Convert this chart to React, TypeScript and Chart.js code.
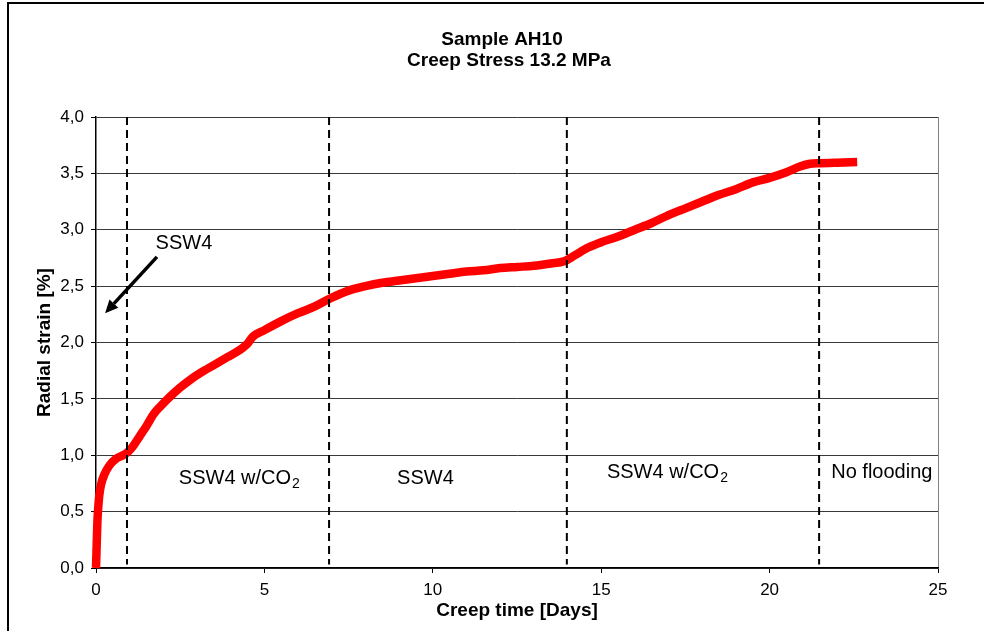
import React, { useEffect, useRef } from 'react';
import { Chart, registerables } from 'chart.js';

Chart.register(...registerables);

const titleLines = ['Sample AH10', 'Creep Stress 13.2 MPa'];
const xAxisTitle = 'Creep time [Days]';
const yAxisTitle = 'Radial strain [%]';

const days = [
  0, 0.02, 0.04, 0.07, 0.1, 0.15, 0.25, 0.4, 0.6, 0.8, 0.95, 1.1, 1.3, 1.5, 1.7, 1.9,
  2.2, 2.5, 2.8, 3.1, 3.5, 3.9, 4.3, 4.5, 4.65, 5.0, 5.5, 6.0, 6.5, 6.95, 7.5, 8.0,
  8.5, 9.0, 9.5, 10.0, 10.5, 11.0, 11.5, 12.0, 12.5, 13.0, 13.5, 13.9, 14.2, 14.6,
  15.0, 15.5, 16.0, 16.5, 17.0, 17.5, 18.0, 18.5, 19.0, 19.5, 20.0, 20.5, 20.9, 21.2,
  21.5, 22.0, 22.6,
];
const strain = [
  0, 0.2, 0.4, 0.55, 0.65, 0.74, 0.83, 0.91, 0.97, 1.0, 1.03, 1.08, 1.17, 1.26, 1.36, 1.43,
  1.52, 1.6, 1.67, 1.73, 1.8, 1.87, 1.94, 1.99, 2.05, 2.11, 2.19, 2.26, 2.32, 2.39, 2.46, 2.5,
  2.53, 2.55, 2.57, 2.59, 2.61, 2.63, 2.64, 2.66, 2.67, 2.68, 2.7, 2.72, 2.77, 2.84,
  2.89, 2.94, 3.0, 3.06, 3.13, 3.19, 3.25, 3.31, 3.36, 3.42, 3.46, 3.51, 3.56, 3.585,
  3.59, 3.595, 3.6,
];

const phaseBoundaries = [0.92, 6.92, 13.98, 21.47];
const phaseLabels = ['SSW4 w/CO|2', 'SSW4', 'SSW4 w/CO|2', 'No flooding'];
const arrowLabel = 'SSW4';

const FONT = '"Liberation Sans", Arial, sans-serif';

// anchor positions (data units) for the phase labels, arrow label and arrow
const phaseLabelAnchors = [
  { x: 2.46, y: 0.745 },
  { x: 8.94, y: 0.745 },
  { x: 15.17, y: 0.8 },
  { x: 21.83, y: 0.8 },
];
const arrowLabelAnchor = { x: 1.77, y: 2.83 };
const arrowTail = { x: 1.81, y: 2.76 };
const arrowHead = { x: 0.27, y: 2.26 };

const overlayPlugin = {
  id: 'overlay',
  beforeDraw(chart: any) {
    const ctx = chart.ctx;
    ctx.save();
    ctx.fillStyle = '#fff';
    ctx.fillRect(0, 0, chart.width, chart.height);
    ctx.fillStyle = '#000';
    ctx.fillRect(7, 2, chart.width - 7, 2);
    ctx.fillRect(7, 2, 2, chart.height - 2);
    ctx.restore();
  },
  afterDatasetsDraw(chart: any) {
    const ctx = chart.ctx;
    const xs = chart.scales.x;
    const ys = chart.scales.y;
    ctx.save();
    ctx.fillStyle = '#000';
    ctx.textBaseline = 'alphabetic';
    ctx.textAlign = 'left';
    const drawLabel = (label: string, a: { x: number; y: number }) => {
      const [main, sub] = label.split('|');
      const px = xs.getPixelForValue(a.x);
      const py = ys.getPixelForValue(a.y);
      ctx.font = `20px ${FONT}`;
      ctx.fillText(main, px, py);
      if (sub) {
        const w = ctx.measureText(main).width;
        ctx.font = `14px ${FONT}`;
        ctx.fillText(sub, px + w + 1, py + 4);
      }
    };
    phaseLabels.forEach((l, i) => drawLabel(l, phaseLabelAnchors[i]));
    drawLabel(arrowLabel, arrowLabelAnchor);

    // arrow
    const tx = xs.getPixelForValue(arrowTail.x);
    const ty = ys.getPixelForValue(arrowTail.y);
    const hx = xs.getPixelForValue(arrowHead.x);
    const hy = ys.getPixelForValue(arrowHead.y);
    const ang = Math.atan2(hy - ty, hx - tx);
    const headLen = 13;
    const headW = 6;
    const bx = hx - headLen * Math.cos(ang);
    const by = hy - headLen * Math.sin(ang);
    ctx.strokeStyle = '#000';
    ctx.lineWidth = 3.5;
    ctx.beginPath();
    ctx.moveTo(tx, ty);
    ctx.lineTo(bx, by);
    ctx.stroke();
    ctx.beginPath();
    ctx.moveTo(hx, hy);
    ctx.lineTo(bx + headW * Math.sin(ang), by - headW * Math.cos(ang));
    ctx.lineTo(bx - headW * Math.sin(ang), by + headW * Math.cos(ang));
    ctx.closePath();
    ctx.fill();
    ctx.restore();
  },
  afterDraw(chart: any) {
    const ctx = chart.ctx;
    ctx.save();
    ctx.fillStyle = '#000';
    ctx.font = `bold 19px ${FONT}`;
    ctx.textAlign = 'center';
    ctx.textBaseline = 'alphabetic';
    ctx.fillText(titleLines[0], 502, 45);
    ctx.fillText(titleLines[1], 509, 66);
    ctx.restore();
  },
};

export default function App() {
  const ref = useRef<HTMLCanvasElement | null>(null);

  useEffect(() => {
    document.body.style.margin = '0';
    const canvas = ref.current;
    if (!canvas) return;

    const dashed = phaseBoundaries.map((b) => ({
      type: 'line' as const,
      data: [
        { x: b, y: 4 },
        { x: b, y: 0.03 },
      ],
      borderColor: '#000',
      borderWidth: 2,
      borderDash: [8, 5],
      pointRadius: 0,
      fill: false,
      order: 0,
    }));

    const chart = new Chart(canvas, {
      type: 'line',
      data: {
        datasets: [
          ...dashed,
          {
            data: days.map((d, i) => ({ x: d, y: strain[i] })),
            borderColor: '#ff0000',
            borderWidth: 8.5,
            pointRadius: 0,
            fill: false,
            cubicInterpolationMode: 'monotone',
            clip: 10,
            order: 1,
          } as any,
        ],
      },
      options: {
        animation: false,
        responsive: false,
        maintainAspectRatio: false,
        layout: { padding: { left: 0, top: 117, right: 46, bottom: 0 } },
        plugins: {
          legend: { display: false },
          tooltip: { enabled: false },
          title: { display: false },
        },
        scales: {
          x: {
            type: 'linear',
            min: 0,
            max: 25,
            afterFit: (s: any) => {
              s.height = 63;
            },
            ticks: {
              stepSize: 5,
              color: '#000',
              font: { family: FONT, size: 17 },
              padding: 7,
              maxRotation: 0,
            },
            grid: {
              drawOnChartArea: true,
              color: (c: any) => (c.tick && c.tick.value === 25 ? '#808080' : 'rgba(0,0,0,0)'),
              tickColor: '#000',
              tickLength: 5,
              lineWidth: 1,
            },
            border: { color: '#000', width: 1.5 },
            title: {
              display: true,
              text: xAxisTitle,
              color: '#000',
              font: { family: FONT, size: 19, weight: 'bold' },
              padding: { top: 0, bottom: 9 },
            },
          },
          y: {
            type: 'linear',
            min: 0,
            max: 4,
            afterFit: (s: any) => {
              s.width = 96;
            },
            ticks: {
              stepSize: 0.5,
              color: '#000',
              font: { family: FONT, size: 17 },
              padding: 7,
              callback: (v: any) => Number(v).toFixed(1).replace('.', ','),
            },
            grid: {
              color: '#3a3a3a',
              tickColor: '#000',
              tickLength: 5,
              lineWidth: 1,
            },
            border: { color: '#000', width: 1.5 },
            title: {
              display: true,
              text: yAxisTitle,
              color: '#000',
              font: { family: FONT, size: 19, weight: 'bold' },
              padding: { top: 33, bottom: 0 },
            },
          },
        },
      },
      plugins: [overlayPlugin],
    } as any);

    return () => chart.destroy();
  }, []);

  return (
    <div style={{ width: 984, height: 631, position: 'relative' }}>
      <canvas ref={ref} width={984} height={631} style={{ display: 'block', width: 984, height: 631 }} />
    </div>
  );
}
